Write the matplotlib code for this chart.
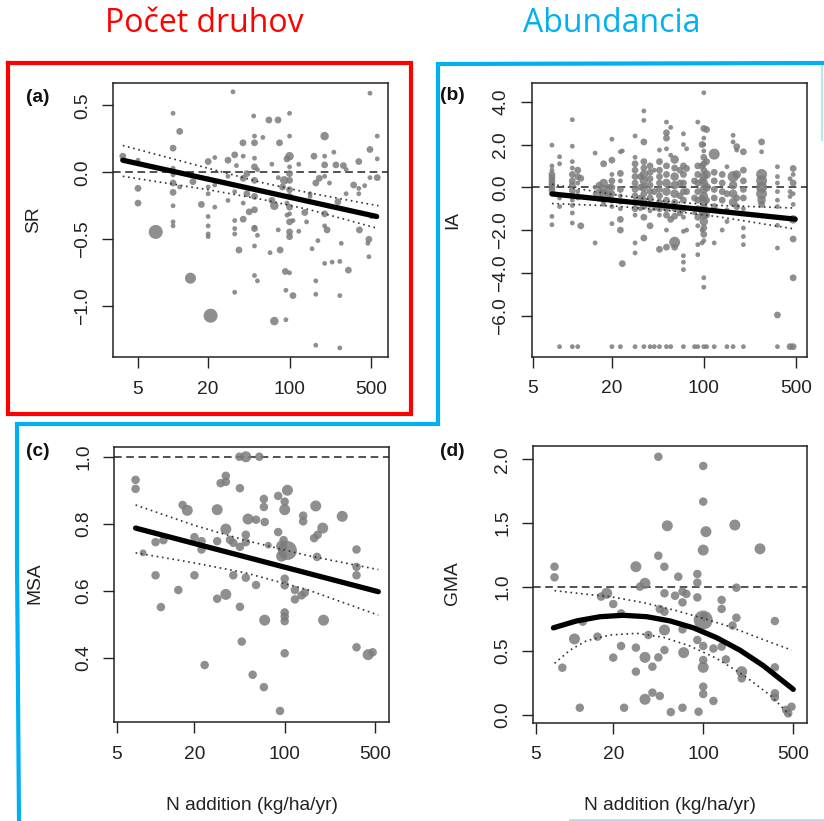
import numpy as np
import matplotlib
matplotlib.use("Agg")
import matplotlib.pyplot as plt
from matplotlib.ticker import NullLocator, FixedLocator, FixedFormatter

plt.rcParams['font.family'] = ['Liberation Sans', 'DejaVu Sans']

# ---------------- data ----------------
x_ticks = [5, 20, 100, 500]
x_ticklabels = ["5", "20", "100", "500"]

# (a) species richness
a_N = [3.7, 5, 5, 5, 7.1, 10, 10, 10, 10, 10, 10, 10, 10, 10, 11.4, 11.4, 14.8, 14.1, 17.5,
       20, 20, 20, 20, 20, 20, 20, 20, 21, 22.8, 22.8, 22.8, 29.6, 29.6, 29.6, 32.7, 33.8, 33.8,
       33.8, 33.8, 33.8, 33.8, 35, 36.8, 39.8, 40, 40, 40, 40, 43, 43, 45, 49.2, 50, 50, 50, 50,
       50, 50, 50, 50, 50, 50, 50, 53, 53, 53, 59, 66.5, 68, 70.5, 70.5, 74, 74, 79.6, 80, 80,
       82, 83, 87, 90, 92, 93, 93, 95, 95, 95, 100, 100, 100, 100, 100, 100, 100, 100, 100, 100,
       100, 100, 100, 100, 107, 107, 120, 120, 135, 140, 150, 150, 156, 162, 168, 168, 168, 168,
       175, 180, 200, 200, 200, 200, 200, 200, 200, 210, 220, 232, 240, 250, 260, 270, 270, 270,
       278, 290, 306, 306, 320, 355, 393, 393, 393, 398, 441, 470, 490, 490, 490, 480, 480, 566,
       566, 566, 505]
a_SR = [0.12, 0.09, -0.12, -0.23, -0.445, 0.44, 0.18, 0.03, -0.02, -0.08, -0.15, -0.25, -0.37,
        -0.40, 0.305, -0.11, -0.07, -0.79, -0.24, 0.08, -0.05, -0.11, -0.16, -0.33, -0.40, -0.46,
        -0.48, -1.07, 0.11, -0.095, -0.26, 0.09, -0.03, -0.21, 0.60, 0.13, -0.145, -0.36, -0.42,
        -0.46, -0.895, 0.05, -0.58, 0.22, 0.12, -0.045, -0.23, -0.35, -0.01, -0.16, -0.295, 0.42,
        0.27, 0.22, 0.105, 0.04, -0.06, -0.18, -0.28, -0.41, -0.42, -0.55, -0.77, 0.02, -0.47,
        -0.81, 0.26, 0.39, -0.60, 0.06, -0.21, -0.25, -1.11, 0.39, -0.04, -0.43, 0.22, -0.58,
        -0.11, -0.06, -0.74, -0.88, -1.10, 0.10, -0.23, -0.32, 0.44, 0.27, 0.12, 0.04, -0.01,
        -0.06, -0.13, -0.18, -0.26, -0.31, -0.37, -0.445, -0.48, -0.75, -0.92, -0.36, 0.06, -0.44,
        -0.30, -0.37, -0.16, -0.18, -0.57, 0.12, -0.08, -0.81, -0.91, -1.29, -0.51, -0.045, 0.27,
        0.12, 0.055, -0.03, -0.31, -0.40, -0.68, -0.43, -0.08, -0.67, 0.15, 0.055, -0.22, -0.92,
        -1.31, -0.665, -0.53, 0.05, 0.02, -0.16, -0.73, -0.095, -0.12, -0.16, 0.08, -0.43, -0.10,
        -0.53, 0.17, 0.59, -0.04, -0.63, -0.50, 0.27, 0.10, -0.04, -0.33]
a_w = [2, 1, 2, 2, 5, 1, 2, 1, 1, 2, 2, 1, 1, 1, 2, 1, 2, 4, 2, 2, 1, 1, 1, 1, 1, 1, 1, 5, 1, 1,
       1, 2, 1, 1, 1, 2, 1, 1, 1, 1, 1, 1, 2, 2, 1, 2, 1, 2, 2, 2, 2, 1, 1, 2, 1, 2, 2, 2, 2, 1,
       2, 1, 1, 1, 1, 1, 1, 2, 1, 1, 2, 3, 3, 2, 1, 1, 2, 2, 2, 3, 2, 1, 1, 2, 1, 1, 1, 1, 3, 1,
       2, 2, 2, 2, 2, 1, 2, 2, 2, 1, 2, 1, 1, 1, 2, 1, 1, 1, 1, 2, 2, 1, 1, 1, 1, 2, 3, 1, 2, 1,
       2, 1, 1, 2, 1, 1, 1, 2, 2, 1, 1, 1, 1, 2, 1, 1, 2, 2, 1, 1, 2, 2, 1, 1, 2, 1, 1, 1, 2, 1,
       1, 2, 1]
a_fit_N = [3.7, 560]
a_fit = [0.09, -0.33]
a_ci_N = [3.7, 20, 60, 150, 580]
a_upper = [0.20, 0.03, -0.08, -0.155, -0.25]
a_lower = [-0.03, -0.13, -0.205, -0.28, -0.42]

# (b) individual abundance, grouped by N level
b_col_N = [7.0, 8.0, 10, 11, 11.6, 14.9, 16, 17.3, 19, 20, 23.2, 24, 30, 33, 35, 39, 42, 46, 52,
           56, 60, 66, 70, 74, 85, 90, 97, 100, 105, 120, 138, 150, 167, 178, 200, 275, 363,
           453, 478]
b_col_IA = [
    [1.97, 1.0, 0.8, 0.6, 0.45, 0.3, 0.15, 0.0, -0.15, -0.3, -1.36, -1.75],
    [1.43, 1.1, -0.5, -0.9, -7.45],
    [3.16, 1.92, 1.2, 0.9, 0.6, 0.3, 0.1, -0.15, -0.4, -0.6, -0.85, -1.2, -1.67, -7.45],
    [0.8, 0.5, 0.2, -0.2, -0.5, -7.45],
    [0.42, -1.8],
    [1.6, -2.6, 0.0, -0.3],
    [0.1, -0.2, -0.5],
    [1.1, 0.2, -0.1, -0.3, -0.6, -0.8],
    [0.0, -0.3, -0.5],
    [2.25, 1.27, 0.6, 0.3, 0.0, -0.3, -0.6, -0.9, -1.7, -7.45],
    [1.66, 0.65, 0.3, -0.1, -0.4, -0.7, -1.0, -1.5, -2.0, -7.45],
    [-3.57, 1.7],
    [2.4, 1.4, 1.1, 0.8, 0.5, 0.2, -0.1, -0.4, -0.7, -1.0, -1.3, -2.6, -3.07, -7.45],
    [0.5, 0.0, -0.5, -1.0],
    [3.57, 3.13, 2.12, 1.2, 0.9, 0.6, 0.3, 0.0, -0.3, -0.6, -0.9, -1.4, -2.37, -7.45],
    [1.0, 0.7, 0.4, 0.1, -0.2, -0.5, -0.8, -1.1, -1.8, -7.45],
    [0.8, -0.2, -1.0, -7.45],
    [1.74, 1.2, 0.8, 0.5, 0.2, -0.1, -0.4, -0.7, -1.0, -1.3, -2.9, -7.45],
    [3.05, 2.55, 2.3, 1.8, 1.0, 0.6, 0.2, -0.2, -0.6, -1.0, -1.3, -2.0, -2.8, -7.45],
    [2.8, 1.5, -1.5, -7.45],
    [1.3, 0.9, 0.5, 0.1, -0.3, -0.7, -1.0, -1.35, -2.57, -2.8],
    [0.8, 0.2, -0.4, -1.0, -1.2],
    [2.5, 2.0, 1.0, 0.6, 0.2, -0.2, -0.6, -1.0, -1.4, -2.06, -3.2, -3.5, -3.85, -7.45],
    [1.8, 0.88, -0.2, -2.0],
    [0.3, -0.5, -1.2, -7.45],
    [3.05, 1.0, 0.6, 0.2, -0.2, -0.6, -1.0, -1.4, -1.8, -2.68, -3.15, -7.45],
    [2.0, 1.0, 0.3, -0.5, -1.2, -2.0, -2.6],
    [4.42, 2.75, 2.3, 2.0, 1.7, 1.4, 1.1, 0.8, 0.5, 0.2, -0.1, -0.4, -0.7, -1.0, -1.3, -1.6,
     -1.9, -2.2, -2.5, -4.23, -4.67, -7.45],
    [2.7, 1.2, 0.6, 0.0, -0.6, -1.3, -7.45],
    [1.55, 0.7, 0.3, -0.1, -0.5, -0.9, -2.6, -7.45],
    [0.6, 0.2, -0.2, -0.6, -2.0],
    [0.96, -0.3, -1.05, -1.6, -7.45],
    [2.43, 2.12, 0.5, 0.1, -0.3, -0.7, -7.45],
    [1.9, 1.74, 0.6, -0.5, -0.9],
    [1.66, 0.8, 0.3, -0.1, -0.5, -1.0, -1.9, -2.3, -2.68, -7.45],
    [2.12, 1.66, 0.6, 0.3, 0.0, -0.3, -0.6, -0.8],
    [0.96, 0.5, 0.2, -0.2, -0.6, -0.9, -1.78, -2.84, -5.97, -7.45],
    [0.4, -0.2, -0.43, -7.45],
    [0.88, 0.6, 0.2, -0.3, -0.8, -1.5, -2.42, -4.23, -7.45],
]
b_col_w = [
    [1, 1, 1, 2, 2, 2, 2, 2, 2, 1, 1, 1],
    [1, 1, 1, 1, 1],
    [1, 1, 1, 1, 2, 2, 2, 2, 2, 1, 1, 1, 1, 1],
    [2, 2, 1, 1, 1, 1],
    [2, 2],
    [1, 1, 1, 1],
    [2, 2, 2],
    [2, 3, 3, 3, 2, 1],
    [2, 2, 1],
    [1, 2, 1, 2, 2, 2, 2, 1, 1, 1],
    [1, 2, 1, 2, 1, 1, 1, 2, 2, 1],
    [2, 1],
    [1, 1, 2, 2, 2, 2, 2, 2, 2, 2, 1, 1, 1, 1],
    [2, 2, 2, 1],
    [1, 1, 2, 2, 2, 3, 3, 3, 2, 2, 2, 2, 2, 1],
    [2, 2, 2, 2, 2, 2, 2, 1, 2, 1],
    [1, 2, 1, 1],
    [1, 2, 2, 2, 2, 2, 2, 2, 2, 1, 2, 1],
    [1, 2, 2, 1, 2, 2, 3, 3, 2, 2, 2, 1, 2, 1],
    [1, 1, 2, 1],
    [3, 2, 3, 3, 3, 2, 2, 2, 4, 2],
    [2, 2, 2, 1, 2],
    [1, 1, 2, 2, 2, 2, 2, 2, 1, 1, 1, 1, 1, 1],
    [1, 2, 2, 1],
    [2, 2, 1, 1],
    [1, 2, 2, 2, 2, 2, 2, 2, 1, 1, 1, 1],
    [2, 2, 2, 2, 2, 1, 1],
    [1, 2, 1, 1, 1, 2, 2, 2, 3, 3, 3, 3, 3, 3, 3, 3, 2, 2, 1, 1, 1, 1],
    [2, 2, 3, 3, 2, 2, 1],
    [4, 2, 2, 2, 2, 2, 1, 1],
    [2, 2, 2, 2, 1],
    [1, 2, 1, 1, 1],
    [1, 1, 4, 3, 3, 3, 1],
    [2, 1, 3, 2, 2],
    [2, 2, 2, 2, 2, 1, 1, 1, 1, 1],
    [2, 1, 4, 4, 4, 4, 3, 2],
    [1, 1, 1, 1, 1, 1, 1, 1, 2, 1],
    [1, 1, 1, 2],
    [2, 1, 2, 1, 1, 3, 2, 2, 2],
]
b_fit_N = [7, 495]
b_fit = [-0.31, -1.49]
b_ci_N = [7, 20, 50, 130, 495]
b_upper = [0.14, -0.33, -0.65, -0.85, -0.97]
b_lower = [-0.76, -0.87, -1.06, -1.38, -1.95]

# (c) mean species abundance
c_N = [7.0, 7.0, 8.0, 10.0, 11.5, 10.0, 11.0, 15.0, 16.2, 17.6, 20, 20, 22.7, 22.7, 24, 30, 30,
       30, 31.9, 35, 35, 35, 35, 37.7, 40, 40, 44.6, 45, 45, 45, 46.5, 50, 50, 50, 50, 52, 56.5,
       60, 60, 63.6, 69, 69, 70, 70, 69, 74.7, 89, 89, 92, 94.6, 94.6, 98, 100, 100, 100, 100,
       100, 100, 100, 100, 105, 105, 120, 120, 135, 139, 139, 143, 169, 174, 180, 178, 197, 200,
       279, 360, 360, 360, 360, 443, 480]
c_MSA = [0.931, 0.904, 0.713, 0.745, 0.751, 0.646, 0.551, 0.602, 0.856, 0.84, 0.76, 0.646, 0.748,
         0.723, 0.378, 0.842, 0.748, 0.576, 0.921, 0.943, 0.925, 0.784, 0.589, 0.752, 0.743,
         0.646, 1.0, 0.906, 0.731, 0.552, 0.448, 1.0, 0.767, 0.745, 0.639, 0.814, 0.349, 0.812,
         0.617, 1.0, 0.874, 0.85, 0.805, 0.512, 0.312, 0.736, 0.883, 0.775, 0.241, 0.733, 0.703,
         0.751, 0.866, 0.842, 0.636, 0.616, 0.535, 0.523, 0.509, 0.413, 0.90, 0.72, 0.602, 0.574,
         0.586, 0.824, 0.807, 0.594, 0.757, 0.853, 0.767, 0.701, 0.787, 0.512, 0.822, 0.723,
         0.671, 0.646, 0.431, 0.409, 0.416]
c_w = [3, 3, 2, 3, 3, 3, 3, 3, 3, 4, 3, 3, 3, 3, 3, 4, 3, 3, 3, 3, 3, 4, 4, 3, 3, 3, 3, 3, 3, 3,
       3, 4, 3, 3, 3, 4, 3, 3, 3, 3, 3, 3, 3, 4, 3, 2, 3, 3, 3, 4, 4, 3, 3, 4, 3, 3, 3, 3, 3, 3,
       4, 6, 3, 3, 3, 3, 3, 3, 3, 4, 3, 3, 4, 4, 4, 3, 3, 3, 3, 4, 3]
c_fit_N = [7.0, 531]
c_fit = [0.787, 0.597]
c_ci_N = [7, 20, 50, 150, 531]
c_upper = [0.856, 0.795, 0.750, 0.705, 0.663]
c_lower = [0.713, 0.683, 0.653, 0.603, 0.527]

# (d) geometric mean abundance
d_N = [7.0, 7.0, 8.05, 10, 11, 11.6, 15.1, 16.1, 17.8, 20, 20, 23, 23, 24.3, 30, 30, 30, 32.3,
       35.3, 35.3, 35.3, 37.5, 40.3, 40.3, 44.8, 44.8, 44.8, 46, 46, 49.9, 50, 50, 50, 50, 52.6,
       56, 60.4, 64, 69, 69, 69, 69, 70.5, 74, 90, 90, 90, 90, 92, 100, 100, 100, 105, 100, 100,
       100, 100, 100, 100, 101, 120, 120, 139, 139, 139, 150, 169, 176, 181, 181, 199, 199, 276,
       360, 360, 360, 360, 457, 485, 440]
d_GMA = [1.16, 1.077, 0.37, 0.595, 0.057, 0.73, 0.613, 0.926, 0.952, 0.868, 0.449, 0.795, 0.54,
         0.057, 1.16, 0.527, 0.339, 1.004, 1.03, 0.451, 0.123, 0.626, 0.378, 0.175, 2.02, 1.246,
         0.451, 0.149, 0.829, 1.16, 0.808, 0.665, 0.508, 0.952, 1.48, 0.023, 0.933, 1.082, 0.881,
         0.965, 0.67, 0.057, 0.488, 0.947, 1.103, 1.035, 0.92, 0.587, 0.026, 1.948, 1.669, 1.29,
         1.434, 0.743, 0.54, 0.43, 0.373, 0.222, 0.164, 0.77, 0.11, 0.52, 0.9, 0.83, 0.535, 0.435,
         0.7, 1.486, 0.761, 0.996, 0.339, 0.287, 1.30, 0.735, 0.373, 0.17, 0.138, 0.013, 0.065,
         0.04]
d_w = [3, 3, 3, 4, 3, 3, 3, 3, 4, 3, 3, 3, 3, 3, 4, 3, 3, 3, 4, 4, 4, 3, 3, 3, 3, 3, 3, 3, 3, 3,
       3, 4, 3, 3, 4, 3, 3, 3, 3, 3, 3, 3, 4, 3, 3, 3, 3, 3, 3, 3, 3, 4, 4, 6, 3, 3, 4, 3, 3, 3,
       3, 3, 3, 3, 3, 3, 3, 4, 3, 3, 4, 3, 4, 3, 3, 3, 3, 3, 3, 3]
d_fit_N = [6.86, 10.4, 15.8, 23.9, 36.4, 55.2, 83.8, 127, 193, 292, 500]
d_fit = [0.682, 0.736, 0.769, 0.780, 0.769, 0.736, 0.682, 0.605, 0.507, 0.387, 0.201]
d_up_N = [7.0, 11.7, 18.9, 34.3, 62.1, 100, 161, 275, 485]
d_upper = [0.973, 0.947, 0.926, 0.879, 0.816, 0.756, 0.691, 0.600, 0.508]
d_lo_N = [7.0, 9.25, 12.4, 18.9, 30.4, 49.0, 78.9, 127, 205, 330, 471]
d_lower = [0.404, 0.508, 0.581, 0.626, 0.639, 0.608, 0.540, 0.443, 0.313, 0.156, 0.0]

# ---------------- drawing ----------------
W, H = 824, 821
fig = plt.figure(figsize=(W / 100, H / 100), dpi=100)

PT_COLOR = '#7b7b7b'
DIAM_PX = {1: 4.8, 2: 6.8, 3: 8.5, 4: 11.0, 5: 14.0, 6: 19.0}


def sizes(w):
    return [(DIAM_PX[v] * 0.72) ** 2 for v in w]


def px_axes(l, t, r, b):
    return fig.add_axes([l / W, 1 - b / H, (r - l) / W, (b - t) / H])


def style(ax, xlim, ylim, yticks, yfmt):
    ax.set_xscale('log')
    ax.set_xlim(*xlim)
    ax.set_ylim(*ylim)
    ax.xaxis.set_major_locator(FixedLocator(x_ticks))
    ax.xaxis.set_major_formatter(FixedFormatter(x_ticklabels))
    ax.xaxis.set_minor_locator(NullLocator())
    ax.set_yticks(yticks)
    ax.set_yticklabels([yfmt.format(v).replace('-', '\u2212') for v in yticks])
    ax.tick_params(axis='both', direction='out', length=8, width=1.0, colors='#222222',
                   labelsize=13.8)
    ax.tick_params(axis='x', pad=9)
    ax.tick_params(axis='y', pad=8)
    for lab in ax.get_yticklabels():
        lab.set_rotation(90)
        lab.set_va('center')
    for s in ax.spines.values():
        s.set_linewidth(1.1)
        s.set_color('#222222')


def ci_lines(ax, n, up, lo, n2=None):
    ax.plot(n, up, color='#333333', lw=1.2, ls=(0, (1, 2.2)), zorder=4)
    ax.plot(n if n2 is None else n2, lo, color='#333333', lw=1.2, ls=(0, (1, 2.2)), zorder=4)


# overlay for the hand-drawn frames and headings
ov = fig.add_axes([0, 0, 1, 1], zorder=-5)
ov.set_xlim(0, W)
ov.set_ylim(H, 0)
ov.axis('off')
RED = '#ff0000'
CYAN = '#00b0f0'
ov.plot([8, 411, 411, 8, 8], [63, 63, 414, 414, 63], color=RED, lw=3.0, solid_joinstyle='miter')
ov.plot([19, 17, 17, 438, 438, 823], [821, 560, 424, 424, 64, 63], color=CYAN, lw=3.0,
        solid_joinstyle='miter')
ov.plot([822, 822], [63, 140], color=CYAN, lw=1.5, alpha=0.3)
ov.plot([570, 824], [820, 820], color=CYAN, lw=2.0, alpha=0.35)

fig.text(204 / W, 1 - 24 / H, 'Počet druhov', color=RED, fontsize=23, family='Open Sans',
         ha='center', va='center')
fig.text(612 / W, 1 - 24 / H, 'Abundancia', color=CYAN, fontsize=23, family='Open Sans',
         ha='center', va='center')

# (a)
ax = px_axes(113, 83, 388, 357)
ax.axhline(0, color='#222222', lw=1.1, ls=(0, (5, 3)), zorder=1)
ax.scatter(a_N, a_SR, s=sizes(a_w), color=PT_COLOR, alpha=0.85, lw=0, zorder=2)
ax.plot(a_fit_N, a_fit, color='black', lw=3.8, solid_capstyle='round', zorder=5)
ci_lines(ax, a_ci_N, a_upper, a_lower)
style(ax, (3.05, 700), (-1.378, 0.666), [-1.0, -0.5, 0.0, 0.5], '{:.1f}')

# (b)
b_N, b_IA, b_w = [], [], []
for n, vals, ws in zip(b_col_N, b_col_IA, b_col_w):
    b_N += [n] * len(vals)
    b_IA += vals
    b_w += ws
ax = px_axes(531.7, 82.7, 806.7, 356.7)
ax.axhline(0, color='#222222', lw=1.1, ls=(0, (5, 3)), zorder=1)
ax.scatter(b_N, b_IA, s=sizes(b_w), color=PT_COLOR, alpha=0.85, lw=0, zorder=2)
ax.plot(b_fit_N, b_fit, color='black', lw=3.8, solid_capstyle='round', zorder=5)
ci_lines(ax, b_ci_N, b_upper, b_lower)
style(ax, (4.91, 606), (-7.92, 4.89), [-6, -4, -2, 0, 2, 4], '{:.1f}')

# (c)
ax = px_axes(114.3, 446.7, 389.3, 722.3)
ax.axhline(1.0, color='#222222', lw=1.1, ls=(0, (5, 3)), zorder=1)
ax.scatter(c_N, c_MSA, s=sizes(c_w), color=PT_COLOR, alpha=0.85, lw=0, zorder=2)
ax.plot(c_fit_N, c_fit, color='black', lw=3.8, solid_capstyle='round', zorder=5)
ci_lines(ax, c_ci_N, c_upper, c_lower)
style(ax, (4.79, 646), (0.207, 1.030), [0.4, 0.6, 0.8, 1.0], '{:.1f}')

# (d)
ax = px_axes(533.3, 446, 807.3, 722.7)
ax.axhline(1.0, color='#222222', lw=1.1, ls=(0, (5, 3)), zorder=1)
ax.scatter(d_N, d_GMA, s=sizes(d_w), color=PT_COLOR, alpha=0.85, lw=0, zorder=2)
ax.plot(d_fit_N, d_fit, color='black', lw=3.8, solid_capstyle='round', zorder=5)
ci_lines(ax, d_up_N, d_upper, d_lower, n2=d_lo_N)
style(ax, (4.79, 643), (-0.060, 2.104), [0.0, 0.5, 1.0, 1.5, 2.0], '{:.1f}')

# panel letters, y labels, x labels
for lab, x, y in [('(a)', 38, 97), ('(b)', 452, 96), ('(c)', 38, 451), ('(d)', 452, 451)]:
    fig.text(x / W, 1 - y / H, lab, fontsize=13.8, fontweight='bold', ha='center', va='center',
             color='#111111')
for lab, x, y in [('SR', 34, 220), ('IA', 453, 220), ('MSA', 35, 583), ('GMA', 453, 583)]:
    fig.text(x / W, 1 - y / H, lab, fontsize=13.8, rotation=90, ha='center', va='center',
             color='#222222')
for x in [252, 670]:
    fig.text(x / W, 1 - 805 / H, 'N addition (kg/ha/yr)', fontsize=13.8, ha='center',
             va='center', color='#222222')

fig.savefig('out.png', dpi=100)
